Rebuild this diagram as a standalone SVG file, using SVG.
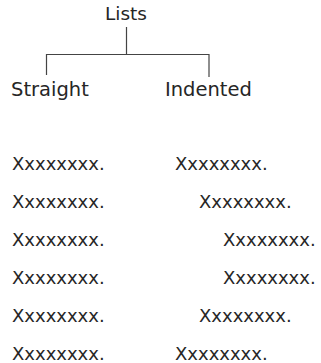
<svg xmlns="http://www.w3.org/2000/svg" width="321" height="363" viewBox="0 0 321 363">
<style>
text{font-family:"DejaVu Sans",sans-serif;fill:#262626}
.h{font-size:19.5px}
.r{font-size:18px}
.c{stroke:#444;stroke-width:1.2;fill:none}
</style>
<rect width="321" height="363" fill="#fff"/>
<g id="connectors">
<path class="c" d="M126.5 27V54.5M46 54.5H209.5M46.5 54V75M209 54V77"/>
</g>
<g id="lists"><text class="h" x="105" y="20" style="font-size:18.5px">Lists</text></g>
<g id="straight"><text class="h" x="11" y="96">Straight</text></g>
<g id="indented"><text class="h" x="165" y="96">Indented</text></g>
<g id="straight-list">
<text class="r" x="12" y="169.5">Xxxxxxxx.</text>
<text class="r" x="12" y="207.5">Xxxxxxxx.</text>
<text class="r" x="12" y="245.5">Xxxxxxxx.</text>
<text class="r" x="12" y="283.5">Xxxxxxxx.</text>
<text class="r" x="12" y="321.5">Xxxxxxxx.</text>
<text class="r" x="12" y="359.5">Xxxxxxxx.</text>
</g>
<g id="indented-list">
<text class="r" x="175" y="169.5">Xxxxxxxx.</text>
<text class="r" x="199" y="207.5">Xxxxxxxx.</text>
<text class="r" x="223" y="245.5">Xxxxxxxx.</text>
<text class="r" x="223" y="283.5">Xxxxxxxx.</text>
<text class="r" x="199" y="321.5">Xxxxxxxx.</text>
<text class="r" x="175" y="359.5">Xxxxxxxx.</text>
</g>
</svg>
